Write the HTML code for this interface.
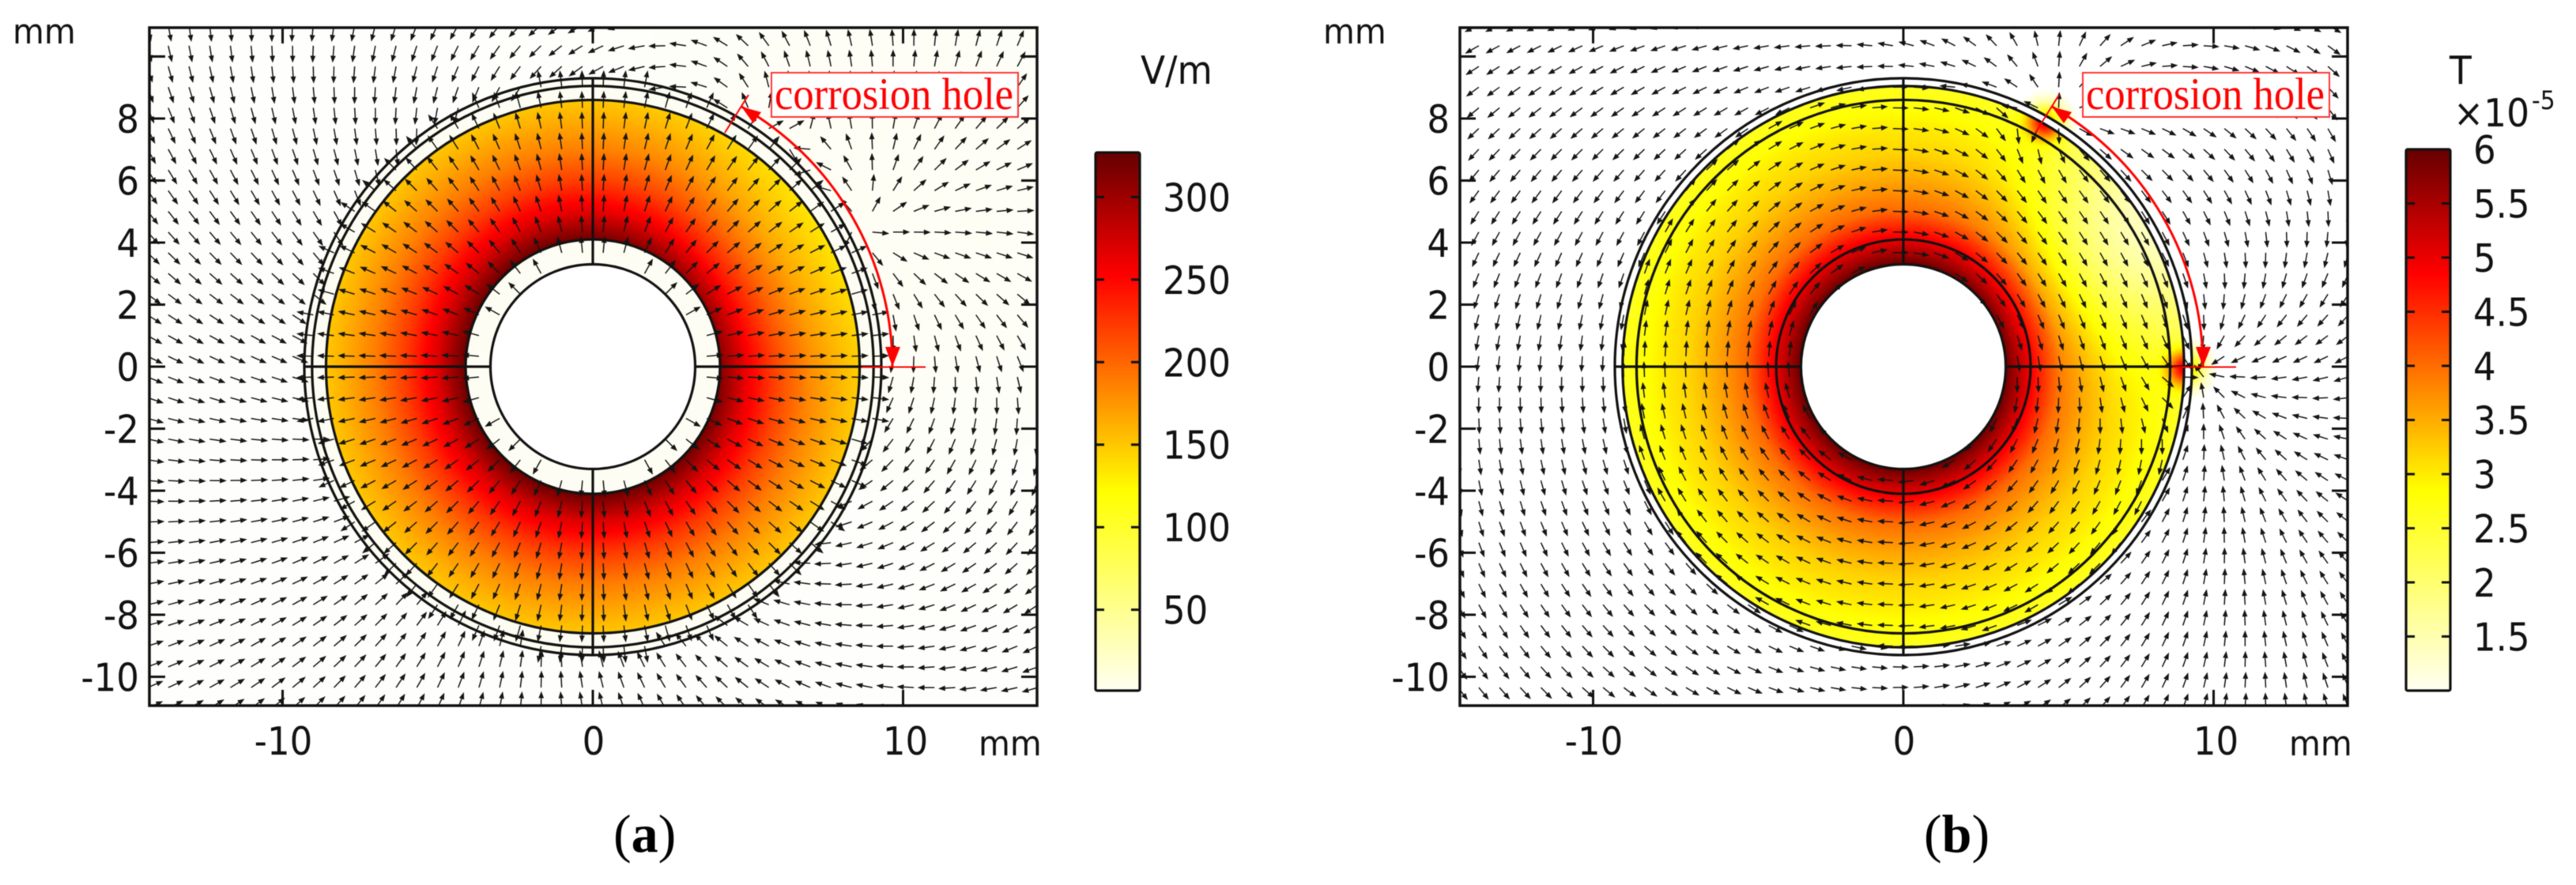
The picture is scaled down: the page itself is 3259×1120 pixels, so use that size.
<!DOCTYPE html>
<html lang="en">
<head>
<meta charset="utf-8">
<title>Electric and magnetic field around a corroded pipe</title>
<style>
html,body{margin:0;padding:0;background:#fff;}
#figure{position:relative;width:3259px;height:1120px;overflow:hidden;background:#fff;}
canvas{position:absolute;top:35px;}
#plots{position:absolute;left:0;top:0;filter:blur(0.5px);}
.lbl{font-family:"DejaVu Sans","Liberation Sans",sans-serif;fill:#111;}
</style>
</head>
<body>
<div id="figure">
<canvas id="heat-a" width="1123" height="858" style="left:189px"></canvas>
<canvas id="heat-b" width="1123" height="858" style="left:1847px"></canvas>
<svg id="plots" width="3259" height="1120" viewBox="0 0 3259 1120" xmlns="http://www.w3.org/2000/svg">
  <defs>
    <clipPath id="clip-a"><rect x="189" y="35" width="1123" height="858"/></clipPath>
    <clipPath id="clip-b"><rect x="1847" y="35" width="1123" height="858"/></clipPath>
  </defs>
  <g id="panel-a"></g>
  <g id="panel-b"></g>

  <g>
    <text class="lbl" font-size="44" transform="translate(16,55) scale(.93,1)">mm</text>
    <text class="lbl" font-size="44" transform="translate(1238,956) scale(.93,1)">mm</text>
    <text class="lbl" font-size="49" transform="translate(1443,106) scale(.93,1)">V/m</text>
    <text x="776" y="1078" font-family="'Liberation Serif',serif" font-size="68" fill="#000">(<tspan font-weight="bold">a</tspan>)</text>
  </g>
  <g>
    <text class="lbl" font-size="44" transform="translate(1674,55) scale(.93,1)">mm</text>
    <text class="lbl" font-size="44" transform="translate(2896,956) scale(.93,1)">mm</text>
    <text class="lbl" font-size="49" transform="translate(3099,106) scale(.93,1)">T</text>
    <text class="lbl" font-size="49" transform="translate(3104,160) scale(.93,1)">×10</text>
    <text class="lbl" font-size="32" transform="translate(3203,138) scale(.93,1)">-5</text>
    <text x="2434" y="1078" font-family="'Liberation Serif',serif" font-size="68" fill="#000">(<tspan font-weight="bold">b</tspan>)</text>
  </g>

  <g>
    <path d="M937.8 134.8 A379 379 0 0 1 1129 464" fill="none" stroke="#f00" stroke-width="3"/>
    <polygon points="938,135 963,142 953,156" fill="#f00"/>
    <polygon points="1129,464 1120,439 1139,439" fill="#f00"/>
    <line x1="917" y1="168" x2="947" y2="120" stroke="#f00" stroke-width="2"/>
    <line x1="1090" y1="464.5" x2="1171" y2="464.5" stroke="#f00" stroke-width="2"/>
    <rect x="976" y="92" width="312" height="56" fill="#fff" stroke="#f33" stroke-width="2"/>
    <text x="980" y="138" font-family="'Liberation Serif',serif" font-size="57" fill="#f00" textLength="302" lengthAdjust="spacingAndGlyphs">corrosion hole</text>
  </g>
  <g transform="translate(1658,0)">
    <path d="M937.8 134.8 A379 379 0 0 1 1129 464" fill="none" stroke="#f00" stroke-width="3"/>
    <polygon points="938,135 963,142 953,156" fill="#f00"/>
    <polygon points="1129,464 1120,439 1139,439" fill="#f00"/>
    <line x1="917" y1="168" x2="947" y2="120" stroke="#f00" stroke-width="2"/>
    <line x1="1090" y1="464.5" x2="1171" y2="464.5" stroke="#f00" stroke-width="2"/>
    <rect x="977" y="92" width="312" height="56" fill="#fff" stroke="#f33" stroke-width="2"/>
    <text x="981" y="138" font-family="'Liberation Serif',serif" font-size="57" fill="#f00" textLength="302" lengthAdjust="spacingAndGlyphs">corrosion hole</text>
  </g>
</svg>
</div>
<script>
// ---------- axis tick values (mm) ----------
const xTickValues = [-10, 0, 10];
const xTickLabels = ['-10', '0', '10'];
const yTickValues = [-10, -8, -6, -4, -2, 0, 2, 4, 6, 8, 10];
const yTickLabels = ['-10', '-8', '-6', '-4', '-2', '0', '2', '4', '6', '8', ''];
// ---------- pipe geometry (mm) ----------
const circleRadii = [3.3, 4.1, 8.6, 9.05, 9.3];
// ---------- colour map ----------
const cmapPositions = [0, 0.37, 0.77, 1];
const cmapReds = [255, 255, 255, 102];
const cmapGreens = [255, 255, 0, 0];
const cmapBlues = [242, 0, 0, 0];
// ---------- colour bar ticks ----------
const barValuesA = [50, 100, 150, 200, 250, 300];
const barLabelsA = ['50', '100', '150', '200', '250', '300'];
const barValuesB = [1.5, 2, 2.5, 3, 3.5, 4, 4.5, 5, 5.5, 6];
const barLabelsB = ['1.5', '2', '2.5', '3', '3.5', '4', '4.5', '5', '5.5', '6'];
// ---------- electric field magnitude against radius, panel a ----------
const fieldRadiiA = [4.1, 5, 6, 7, 8, 8.6];
const fieldValuesA = [326, 268, 223, 188, 163, 150];
// ---------- magnetic flux density against radius, panel b (x10^-5 T) ----------
const fieldRadiiB = [3.3, 3.6, 4.1, 5.07, 6, 6.86, 7.7, 9.05];
const fieldValuesB = [6, 5.6, 5.0, 4.0, 3.55, 3.2, 3.0, 2.6];
// ---------- local features, panel b: x, y, amplitude, width (mm) ----------
const spotXB = [4.6, 9.1, 7.2];
const spotYB = [7.9, -0.05, 4.1];
const spotAmpB = [2.6, 2.6, -1.3];
const spotWidthB = [0.4, 0.4, 2.3];
// ---------- arrow field poles: position, charge, swirl ----------
const outerPoleXA = [0, 5.0, 8.5];
const outerPoleYA = [0, 7.4, 4.5];
const outerPoleChargeA = [-1, 0.35, 0.45];
const outerPoleSwirlA = [0, 0, 0.15];
const innerPoleXA = [0];
const innerPoleYA = [0];
const innerPoleChargeA = [1];
const innerPoleSwirlA = [0];
const outerPoleXB = [5.0, 9.5];
const outerPoleYB = [8.0, -0.1];
const outerPoleChargeB = [1, -1];
const outerPoleSwirlB = [0, 0];
const innerPoleXB = [0, 5.0, 9.5];
const innerPoleYB = [0, 8.0, -0.1];
const innerPoleChargeB = [0, 0.15, -0.15];
const innerPoleSwirlB = [-1, 0, 0];

const NS = 'http://www.w3.org/2000/svg';
const mmPx = 39.25, cy = 464, plotTop = 35, plotBottom = 893;
const barBottom = 874;

function interp(xs, ys, x) {
  if (x <= xs[0]) return ys[0];
  for (let i = 1; i < xs.length; i++) {
    if (x <= xs[i]) {
      const f = (x - xs[i - 1]) / (xs[i] - xs[i - 1]);
      return ys[i - 1] + f * (ys[i] - ys[i - 1]);
    }
  }
  return ys[ys.length - 1];
}
function cmap(t) {
  t = Math.max(0, Math.min(1, t));
  return [interp(cmapPositions, cmapReds, t), interp(cmapPositions, cmapGreens, t), interp(cmapPositions, cmapBlues, t)];
}
function make(parent, tag, attrs, text) {
  const el = document.createElementNS(NS, tag);
  for (const k in attrs) el.setAttribute(k, attrs[k]);
  if (text !== undefined) el.textContent = text;
  parent.appendChild(el);
  return el;
}
function poleField(xs, ys, qs, ws, x, y) {
  let fx = 0, fy = 0;
  for (let i = 0; i < xs.length; i++) {
    const dx = x - xs[i], dy = y - ys[i], d2 = dx * dx + dy * dy + 0.01;
    fx += (qs[i] * dx - ws[i] * dy) / d2;
    fy += (qs[i] * dy + ws[i] * dx) / d2;
  }
  return [fx, fy];
}

function paintHeat(id, colourAt) {
  const cv = document.getElementById(id), ctx = cv.getContext('2d');
  const img = ctx.createImageData(cv.width, cv.height), px = img.data;
  for (let j = 0; j < cv.height; j++) {
    const y = (cy - (plotTop + j + 0.5)) / mmPx;
    for (let i = 0; i < cv.width; i++) {
      const x = (i + 0.5 - 561) / mmPx;
      const c = colourAt(x, y, Math.hypot(x, y));
      const o = (j * cv.width + i) * 4;
      px[o] = c[0]; px[o + 1] = c[1]; px[o + 2] = c[2]; px[o + 3] = 255;
    }
  }
  ctx.putImageData(img, 0, 0);
}
const WHITE = [255, 255, 255], IVORY = [253, 253, 243];
paintHeat('heat-a', function (x, y, r) {
  if (r < circleRadii[0]) return WHITE;
  if (r < circleRadii[1]) return IVORY;
  if (r < circleRadii[2]) {
    const dx = x - 6, dy = y - 4;
    const v = interp(fieldRadiiA, fieldValuesA, r) * (1 - 0.12 * Math.exp(-(dx * dx + dy * dy) / 18));
    return cmap((v - 1) / 326);
  }
  if (r < circleRadii[4]) return IVORY;
  const dx = x - 9, dy = y - 5;
  const k = Math.exp(-(dx * dx + dy * dy) / 70);
  return [254, 254, 252 - 8 * k];
});
paintHeat('heat-b', function (x, y, r) {
  if (r < circleRadii[0]) return WHITE;
  if (r >= circleRadii[3] && r < circleRadii[4]) return WHITE;
  let v = r < circleRadii[3] ? interp(fieldRadiiB, fieldValuesB, r) : 0.9;
  for (let i = 0; i < spotXB.length; i++) {
    if (r >= circleRadii[3] && spotAmpB[i] < 0) continue;
    const dx = x - spotXB[i], dy = y - spotYB[i], s = spotWidthB[i];
    v += spotAmpB[i] * Math.exp(-(dx * dx + dy * dy) / (2 * s * s));
  }
  if (v <= 1) return WHITE;
  return cmap((v - 1) / 5);
});

function drawPanel(cfg) {
  const root = document.getElementById(cfg.rootId);
  const sx = function (mm) { return cfg.cx + mm * mmPx; };
  const sy = function (mm) { return cy - mm * mmPx; };
  const left = cfg.cx - 561, right = cfg.cx + 562;

  // arrows
  const arrows = make(root, 'g', { 'clip-path': 'url(#' + cfg.clipId + ')' });
  
  
  const step = 26.2;
  for (let a = -22; a <= 21; a++) {
    for (let b = -17; b <= 16; b++) {
      const tx = cfg.cx + (a + 0.5) * step, ty = cy + (b + 0.5) * step;
      if (ty < plotTop - 20 || ty > plotBottom + 20) continue;
      const x = (tx - cfg.cx) / mmPx, y = (cy - ty) / mmPx, r = Math.hypot(x, y);
      if (r < circleRadii[0]) continue;
      const inside = r < cfg.innerLimit;
      const f = inside
        ? poleField(cfg.inX, cfg.inY, cfg.inQ, cfg.inW, x, y)
        : poleField(cfg.outX, cfg.outY, cfg.outQ, cfg.outW, x, y);
      const n = Math.hypot(f[0], f[1]) || 1;
      const ux = f[0] / n, uy = -f[1] / n;
      const L = cfg.arrowLength;
      const hx = tx + ux * L, hy = ty + uy * L;
      const bx = hx - ux * 6, by = hy - uy * 6;
      const px = -uy * 2.3, py = ux * 2.3;
      const d = 'M' + tx.toFixed(1) + ' ' + ty.toFixed(1) + 'L' + hx.toFixed(1) + ' ' + hy.toFixed(1) +
        'M' + hx.toFixed(1) + ' ' + hy.toFixed(1) + 'L' + (bx + px).toFixed(1) + ' ' + (by + py).toFixed(1) +
        'L' + (bx - px).toFixed(1) + ' ' + (by - py).toFixed(1) + 'Z';
      const arrow = make(arrows, 'path', { d: d, fill: '#151515', stroke: '#151515', 'stroke-width': 1.5 });
      
      
    }
  }

  // cross lines through the pipe wall
  const seg = [[circleRadii[0], 0, circleRadii[4], 0], [-circleRadii[4], 0, -circleRadii[0], 0],
               [0, circleRadii[0], 0, circleRadii[4]], [0, -circleRadii[4], 0, -circleRadii[0]]];
  for (const s of seg) {
    const cross = make(root, 'line', { x1: sx(s[0]), y1: sy(s[1]), x2: sx(s[2]), y2: sy(s[3]), stroke: '#111', 'stroke-width': 3.2 });
    
    
  }
  // circles
  for (const rad of circleRadii) {
    const ring = make(root, 'circle', { cx: cfg.cx, cy: cy, r: rad * mmPx, fill: 'none', stroke: '#111', 'stroke-width': 3.2 });
    
    
  }

  // frame
  const frame = make(root, 'rect', { x: left, y: plotTop, width: right - left, height: plotBottom - plotTop, fill: 'none', stroke: '#111', 'stroke-width': 3.5 });
  
  

  // x ticks
  xTickValues.forEach(function (v, i) {
    for (const pair of [[plotTop, plotTop + 20], [plotBottom - 20, plotBottom]]) {
      const tick = make(root, 'line', { x1: sx(v), x2: sx(v), y1: pair[0], y2: pair[1], stroke: '#111', 'stroke-width': 3 });
      
      
    }
    const label = make(root, 'text', { class: 'lbl', 'font-size': 49, 'text-anchor': 'middle', transform: 'translate(' + (sx(v) + (v === 10 ? 3 : 1)) + ',955) scale(.92,1)' }, xTickLabels[i]);
    
    
  });
  // y ticks
  yTickValues.forEach(function (v, i) {
    for (const pair of [[left, left + 20], [right - 20, right]]) {
      const tick = make(root, 'line', { x1: pair[0], x2: pair[1], y1: sy(v), y2: sy(v), stroke: '#111', 'stroke-width': 3 });
      
      
    }
    if (yTickLabels[i] !== '') {
      const label = make(root, 'text', { class: 'lbl', 'font-size': 49, 'text-anchor': 'end', transform: 'translate(' + (left - 13) + ',' + (sy(v) + 18) + ') scale(.92,1)' }, yTickLabels[i]);
      
      
    }
  });

  // colour bar
  const gradId = cfg.rootId + '-grad';
  const defs = make(root, 'defs', {});
  const grad = make(defs, 'linearGradient', { id: gradId, x1: 0, y1: 1, x2: 0, y2: 0 });
  for (let s = 0; s < cmapPositions.length; s++) {
    make(grad, 'stop', { offset: cmapPositions[s], 'stop-color': 'rgb(' + cmapReds[s] + ',' + cmapGreens[s] + ',' + cmapBlues[s] + ')' });
  }
  const barY = function (v) { return barBottom - (v - cfg.barMin) / (cfg.barMax - cfg.barMin) * (barBottom - cfg.barTop); };
  const bar = make(root, 'rect', { x: cfg.barX, y: cfg.barTop, width: 56, height: barBottom - cfg.barTop, rx: 2, fill: 'url(#' + gradId + ')', stroke: '#111', 'stroke-width': 3.2 });
  
  
  cfg.barValues.forEach(function (v, i) {
    const y = barY(v);
    if (v < cfg.barMax) {
      for (const pair of [[cfg.barX, cfg.barX + 11], [cfg.barX + 45, cfg.barX + 56]]) {
        const tick = make(root, 'line', { x1: pair[0], x2: pair[1], y1: y, y2: y, stroke: '#111', 'stroke-width': 3 });
        
        
      }
    }
    const label = make(root, 'text', { class: 'lbl', 'font-size': 49, transform: 'translate(' + (cfg.barX + 85) + ',' + (y + 18) + ') scale(.92,1)' }, cfg.barLabels[i]);
    
    
  });
}

drawPanel({
  rootId: 'panel-a', clipId: 'clip-a', cx: 750, arrowLength: 19.5, innerLimit: circleRadii[4],
  inX: innerPoleXA, inY: innerPoleYA, inQ: innerPoleChargeA, inW: innerPoleSwirlA,
  outX: outerPoleXA, outY: outerPoleYA, outQ: outerPoleChargeA, outW: outerPoleSwirlA,
  barX: 1386, barTop: 193, barMin: 1, barMax: 327, barValues: barValuesA, barLabels: barLabelsA
});
drawPanel({
  rootId: 'panel-b', clipId: 'clip-b', cx: 2408, arrowLength: 18, innerLimit: circleRadii[3],
  inX: innerPoleXB, inY: innerPoleYB, inQ: innerPoleChargeB, inW: innerPoleSwirlB,
  outX: outerPoleXB, outY: outerPoleYB, outQ: outerPoleChargeB, outW: outerPoleSwirlB,
  barX: 3044, barTop: 189, barMin: 1, barMax: 6, barValues: barValuesB, barLabels: barLabelsB
});
</script>
</body>
</html>
